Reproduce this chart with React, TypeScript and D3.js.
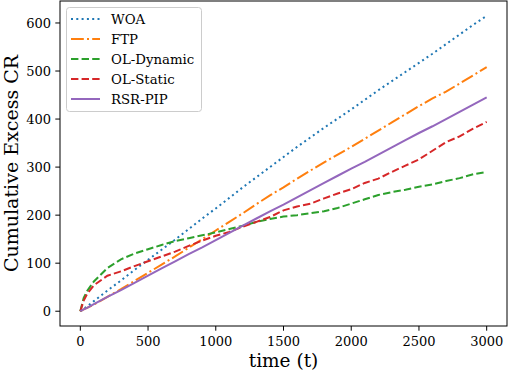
import React from 'react';
import * as d3 from 'd3';

// time steps shared by every series
const timeSteps = [0, 25, 50, 100, 200, 300, 400, 500, 600, 700, 800, 900, 1000,
  1100, 1200, 1300, 1400, 1500, 1600, 1700, 1800, 1900, 2000,
  2100, 2200, 2300, 2400, 2500, 2600, 2700, 2800, 2900, 3000];

const woa = [0, 5, 10, 21, 43, 64, 86, 107, 128, 149, 171, 193, 214,
  236, 258, 279, 300, 321, 342, 362, 382, 401, 420,
  440, 460, 479, 498, 517, 536, 556, 576, 596, 615];
const ftp = [0, 4, 7, 14, 30, 46, 63, 80, 97, 114, 132, 150, 168,
  186, 204, 223, 241, 258, 276, 293, 310, 326, 342,
  359, 376, 393, 410, 427, 443, 457, 474, 491, 508];
const olDynamic = [0, 28, 42, 62, 90, 108, 120, 129, 138, 146, 152, 158, 164,
  171, 178, 186, 192, 197, 200, 204, 208, 215, 224,
  233, 242, 248, 253, 259, 264, 271, 277, 285, 290];
const olStatic = [0, 22, 36, 54, 74, 83, 94, 104, 114, 124, 136, 147, 157,
  165, 176, 186, 196, 210, 218, 224, 235, 245, 254,
  267, 276, 290, 303, 316, 334, 352, 364, 380, 394];
const rsrPip = [0, 4, 7, 15, 30, 44, 59, 74, 89, 104, 119, 133, 148,
  163, 178, 193, 208, 222, 237, 252, 267, 282, 297,
  311, 326, 341, 356, 371, 385, 400, 415, 430, 445];

const xTicks = [0, 500, 1000, 1500, 2000, 2500, 3000];
const yTicks = [0, 100, 200, 300, 400, 500, 600];

const series = [
  { name: 'WOA', values: woa, color: '#1f77b4', dash: '2,3.3' },
  { name: 'FTP', values: ftp, color: '#ff7f0e', dash: '12.8,3.2,2,3.2' },
  { name: 'OL-Dynamic', values: olDynamic, color: '#2ca02c', dash: '7.4,3.2' },
  { name: 'OL-Static', values: olStatic, color: '#d62728', dash: '7.4,3.2' },
  { name: 'RSR-PIP', values: rsrPip, color: '#9467bd', dash: null },
];

const W = 508;
const H = 372;
const left = 60, right = 507, top = 1, bottom = 326;
const font = "'DejaVu Serif', serif";

export default function App() {
  const x = d3.scaleLinear().domain([-150, 3150]).range([left, right]);
  const y = d3.scaleLinear().domain([-30.75, 645.75]).range([bottom, top]);

  const line = d3.line<number>()
    .x((_, i) => x(timeSteps[i]))
    .y(d => y(d));

  return (
    <svg width={W} height={H} style={{ position: 'absolute', left: 0, top: 0, background: '#fff' }}>
      <defs>
        <clipPath id="plot">
          <rect x={left} y={top} width={right - left} height={bottom - top} />
        </clipPath>
      </defs>

      <g clipPath="url(#plot)">
        {series.map(s => (
          <path key={s.name} d={line(s.values) || ''} fill="none" stroke={s.color}
            strokeWidth={2} strokeDasharray={s.dash || undefined} />
        ))}
      </g>

      {/* frame */}
      <rect x={left} y={top} width={right - left} height={bottom - top}
        fill="none" stroke="#000" strokeWidth={1} />

      {/* x axis */}
      {xTicks.map(t => (
        <g key={'x' + t}>
          <line x1={x(t)} x2={x(t)} y1={bottom} y2={bottom + 4.7} stroke="#000" strokeWidth={1} />
          <text x={x(t)} y={346} textAnchor="middle" fontFamily={font} fontSize={13}>{t}</text>
        </g>
      ))}
      {/* y axis */}
      {yTicks.map(t => (
        <g key={'y' + t}>
          <line x1={left - 4.7} x2={left} y1={y(t)} y2={y(t)} stroke="#000" strokeWidth={1} />
          <text x={51} y={y(t)} dy="0.36em" textAnchor="end" fontFamily={font} fontSize={13}>{t}</text>
        </g>
      ))}

      <text x={(left + right) / 2} y={367} textAnchor="middle" fontFamily={font} fontSize={18.5}>time (t)</text>
      <text transform={`translate(18,${(top + bottom) / 2}) rotate(-90)`} textAnchor="middle"
        fontFamily={font} fontSize={19}>Cumulative Excess CR</text>

      {/* legend */}
      <rect x={66.5} y={7.5} width={135} height={104} rx={3} fill="#fff" fillOpacity={0.8}
        stroke="#cccccc" strokeWidth={1} />
      {series.map((s, i) => {
        const ly = 19 + i * 20;
        return (
          <g key={'lg' + s.name}>
            <line x1={71} x2={100} y1={ly} y2={ly} stroke={s.color} strokeWidth={2}
              strokeDasharray={s.dash || undefined} />
            <text x={111} y={ly} dy="0.36em" fontFamily={font} fontSize={13.3}>{s.name}</text>
          </g>
        );
      })}
    </svg>
  );
}
